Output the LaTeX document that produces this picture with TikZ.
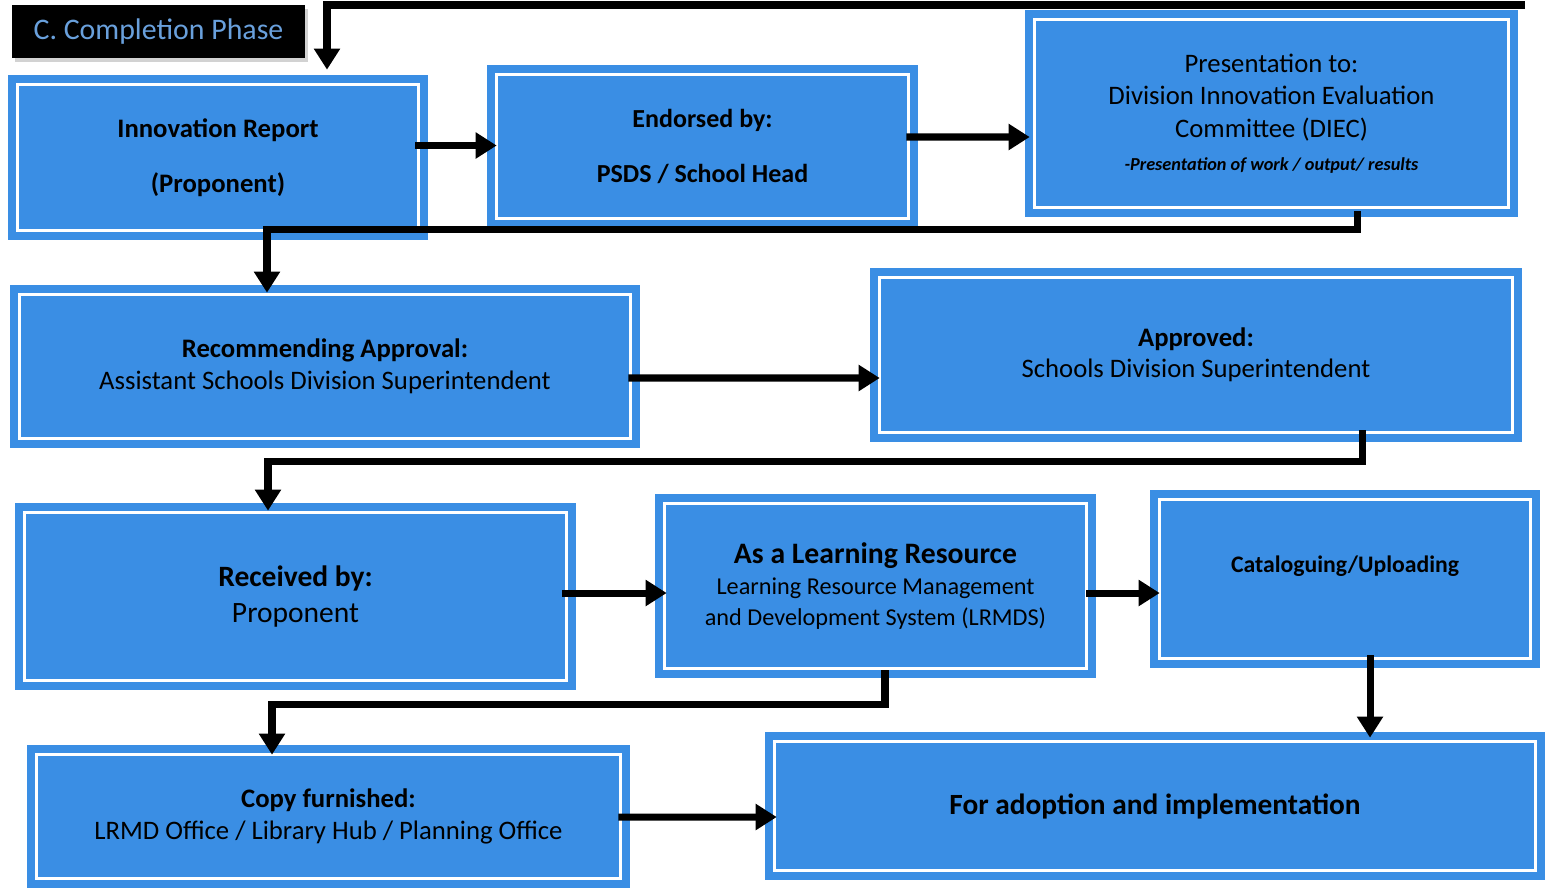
\documentclass[tikz,border=0pt]{standalone}
\usepackage{fontspec}
\setmainfont{Carlito}
\usetikzlibrary{arrows.meta,calc,shadows}

\definecolor{boxblue}{RGB}{58,142,228}
\definecolor{titleblue}{RGB}{105,160,220}

\tikzset{
  stepbox/.style={rectangle, fill=boxblue, inner sep=0pt, align=center,
    path picture={\draw[white, line width=1.6pt]
      ([shift={(5.5pt,-5.5pt)}]path picture bounding box.north west) rectangle
      ([shift={(-5.5pt,5.5pt)}]path picture bounding box.south east);}},
  flow/.style={line width=4pt, -{Triangle[length=0.42cm,width=0.5cm]}},
  titlebox/.style={rectangle, fill=black, text=titleblue, inner sep=0pt,
    drop shadow={shadow xshift=1.5pt, shadow yshift=-2.5pt, fill=gray!70}}
}

\begin{document}
\begin{tikzpicture}[x=0.02cm,y=-0.02cm]
\useasboundingbox (0,0) rectangle (1548,894);

% title
\node[titlebox, minimum width=5.86cm, minimum height=1.06cm,
  font=\fontsize{17}{20}\selectfont] (title) at (158.5,31.5) {C. Completion Phase};

% first row
\node[stepbox, minimum width=8.4cm, minimum height=3.3cm,
  font=\bfseries\fontsize{15.2}{17}\selectfont] (inno) at (218,157.5)
  {Innovation Report\\[14pt](Proponent)};
\node[stepbox, minimum width=8.62cm, minimum height=3.26cm,
  font=\bfseries\fontsize{14.8}{17}\selectfont] (endo) at (702.5,146.5)
  {Endorsed by:\\[14pt]PSDS / School Head};
\node[stepbox, minimum width=9.86cm, minimum height=4.14cm,
  font=\fontsize{15.2}{18.7}\selectfont] (pres) at (1271.5,113.5)
  {Presentation to:\\Division Innovation Evaluation\\Committee (DIEC)\\
   {\bfseries\itshape\fontsize{10.4}{18.7}\selectfont -Presentation of work / output/ results}};

% second row
\node[stepbox, minimum width=12.6cm, minimum height=3.26cm,
  font=\fontsize{15.2}{18.2}\selectfont] (reco) at (325,366.5)
  {\textbf{Recommending Approval:}\\Assistant Schools Division Superintendent};
\node[stepbox, minimum width=13.04cm, minimum height=3.48cm,
  font=\fontsize{15.2}{17.6}\selectfont] (appr) at (1196,355)
  {\textbf{Approved:}\\Schools Division Superintendent};

% third row
\node[stepbox, minimum width=11.22cm, minimum height=3.74cm,
  font=\fontsize{16.8}{20.4}\selectfont] (recv) at (295.5,596.5)
  {\textbf{Received by:}\\Proponent};
\node[stepbox, minimum width=8.82cm, minimum height=3.68cm,
  font=\fontsize{13.8}{17.6}\selectfont] (lrmds) at (875.5,586)
  {{\bfseries\fontsize{16.9}{17.6}\selectfont As a Learning Resource}\\
   Learning Resource Management\\and Development System (LRMDS)};
\node[stepbox, minimum width=7.8cm, minimum height=3.56cm,
  font=\bfseries\fontsize{13.5}{15}\selectfont, text depth=17pt] (catl) at (1345,579)
  {Cataloguing/Uploading};

% last row
\node[stepbox, minimum width=12.06cm, minimum height=2.86cm,
  font=\fontsize{15.2}{18.2}\selectfont] (copy) at (328.5,816.5)
  {\textbf{Copy furnished:}\\LRMD Office / Library Hub / Planning Office};
\node[stepbox, minimum width=15.6cm, minimum height=2.96cm,
  font=\bfseries\fontsize{16.7}{18}\selectfont] (adop) at (1155,806)
  {For adoption and implementation};

% connectors
\coordinate (prev) at (1525,5);
\draw[flow] (prev) -| ($(inno.north)+(109,-5)$);
\draw[flow] ($(inno.east)+(-13,-12)$) -- ($(endo.west)+(10,-1)$);
\draw[flow] ($(endo.east)+(-12,-9.5)$) -- ($(pres.west)+(5,23.5)$);
\draw[flow] ($(pres.south)+(86,-6)$) |- ($(reco.north)+(-58,-55)$) -- ($(reco.north)+(-58,8)$);
\draw[flow] ($(reco.east)+(-12,11.5)$) -- ($(appr.west)+(10,23)$);
\draw[flow] ($(appr.south)+(166,-12)$) |- ($(recv.north)+(-27.5,-41)$) -- ($(recv.north)+(-27.5,8)$);
\draw[flow] ($(recv.east)+(-14,-3.5)$) -- ($(lrmds.west)+(12,7)$);
\draw[flow] ($(lrmds.east)+(-10,7)$) -- ($(catl.west)+(10,14)$);
\draw[flow] ($(lrmds.south)+(9.5,-8)$) |- ($(copy.north)+(-56.5,-40)$) -- ($(copy.north)+(-56.5,10)$);
\draw[flow] ($(catl.south)+(25,-13)$) -- ($(adop.north)+(215,6)$);
\draw[flow] ($(copy.east)+(-12,0.5)$) -- ($(adop.west)+(12,11)$);
\end{tikzpicture}
\end{document}
